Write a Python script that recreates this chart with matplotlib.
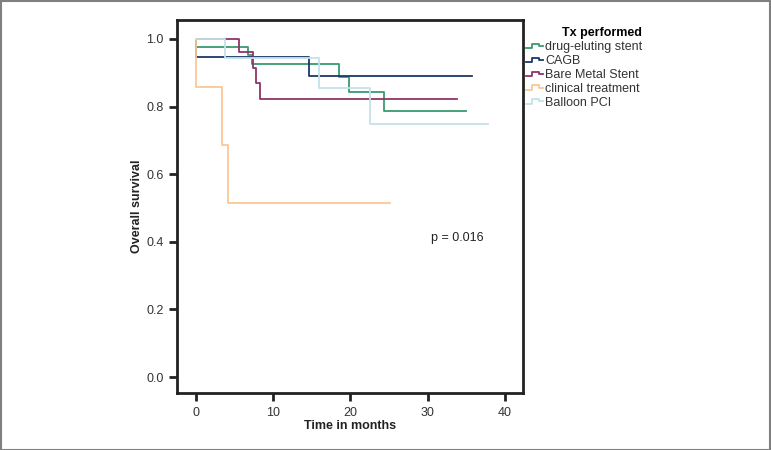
import numpy as np
import matplotlib
matplotlib.use("Agg")
import matplotlib.pyplot as plt
from matplotlib.legend_handler import HandlerBase
from matplotlib.lines import Line2D
from matplotlib.patches import Rectangle

plt.rcParams["font.family"] = ["Liberation Sans", "DejaVu Sans"]

# Kaplan-Meier step data: (times of events, survival after each event)
groups = ["drug-eluting stent", "CAGB", "Bare Metal Stent", "clinical treatment", "Balloon PCI"]
colors = ["#3a9a70", "#1c3867", "#8e3468", "#fbc793", "#c3e3ea"]

des_t = [0, 0, 6.8, 7.3, 18.5, 19.8, 24.4, 35.0]
des_s = [1.0, 0.977, 0.951, 0.925, 0.888, 0.842, 0.787, 0.787]

cagb_t = [0, 0, 14.6, 35.7]
cagb_s = [1.0, 0.947, 0.889, 0.889]

bms_t = [0, 5.6, 7.4, 7.8, 8.3, 33.8]
bms_s = [1.0, 0.96, 0.915, 0.869, 0.822, 0.822]

clin_t = [0, 0, 3.4, 4.2, 25.1]
clin_s = [1.0, 0.857, 0.686, 0.514, 0.514]

bpci_t = [0, 3.8, 15.9, 22.5, 37.8]
bpci_s = [1.0, 0.944, 0.854, 0.749, 0.749]

series = [(des_t, des_s), (cagb_t, cagb_s), (bms_t, bms_s), (clin_t, clin_s), (bpci_t, bpci_s)]

xticks = [0, 10, 20, 30, 40]
yticks = [0.0, 0.2, 0.4, 0.6, 0.8, 1.0]
p_text = "p = 0.016"


class StepHandler(HandlerBase):
    # little step-shaped legend key like the SPSS output
    def create_artists(self, legend, orig_handle, xdescent, ydescent,
                       width, height, fontsize, trans):
        x0 = -xdescent
        y0 = -ydescent
        xs = [x0, x0 + 0.35 * width, x0 + 0.35 * width, x0 + 0.8 * width,
              x0 + 0.8 * width, x0 + width]
        ys = [y0 + 0.25 * height, y0 + 0.25 * height, y0 + 0.75 * height,
              y0 + 0.75 * height, y0 + 0.5 * height, y0 + 0.5 * height]
        ln = Line2D(xs, ys, color=orig_handle.get_color(), lw=1.3, transform=trans)
        return [ln]


fig = plt.figure(figsize=(7.71, 4.5), dpi=100)
ax = fig.add_axes([0.2302, 0.1267, 0.4475, 0.8289])

handles = []
for (t, s), c, name in zip(series, colors, groups):
    h, = ax.step(t, s, where="post", color=c, lw=1.3, label=name)
    handles.append(h)

ax.set_xlim(-2.4, 42.3)
ax.set_ylim(-0.047, 1.056)
ax.set_xticks(xticks)
ax.set_yticks(yticks)
ax.set_yticklabels([f"{v:.1f}" for v in yticks])
ax.tick_params(direction="out", length=6, width=2, labelsize=9, color="#222222",
               labelcolor="#333333", pad=4)
for sp in ax.spines.values():
    sp.set_linewidth(2)
    sp.set_color("#222222")

ax.set_xlabel("Time in months", fontsize=9, fontweight="bold", labelpad=1, color="#222222")
ax.set_ylabel("Overall survival", fontsize=9, fontweight="bold", labelpad=2, color="#222222")

ax.text(30.5, 0.41, p_text, fontsize=9, va="center", ha="left", color="#222222")

leg = ax.legend(handles=handles, labels=groups, handler_map={Line2D: StepHandler()},
                loc="upper left", bbox_to_anchor=(1.0, 0.99), frameon=False,
                fontsize=9, title="Tx performed", alignment="right",
                handlelength=1.3, handletextpad=0.2, labelspacing=0.15,
                borderaxespad=0.1, borderpad=0.2)
leg.get_title().set_fontweight("bold")
leg.get_title().set_fontsize(9)
for t in leg.get_texts():
    t.set_color("#333333")

fig.patches.append(Rectangle((0.001, 0.001), 0.998, 0.997, transform=fig.transFigure,
                             fill=False, edgecolor="#808080", lw=1.5))

fig.savefig("out.png", dpi=100)
